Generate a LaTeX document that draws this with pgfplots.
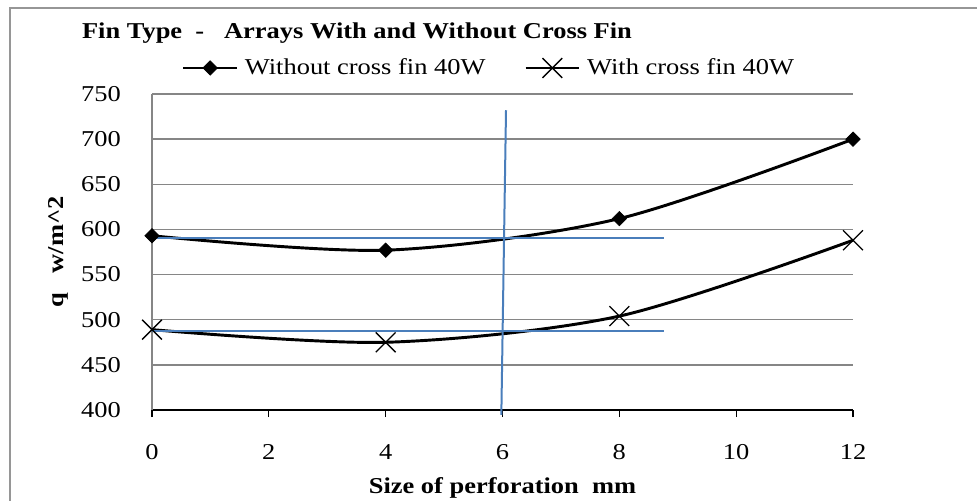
\documentclass[border=0pt]{standalone}
\usepackage{fontspec}
\setmainfont{Liberation Serif}[FakeStretch=1.167]
\usepackage{pgfplots}
\pgfplotsset{compat=1.18}
\definecolor{guideblue}{RGB}{74,126,187}
\definecolor{gridgray}{RGB}{134,134,134}
\definecolor{framegray}{RGB}{150,150,150}
\newcommand{\chartfont}{\fontsize{17}{20}\selectfont}

\begin{document}
\begin{tikzpicture}
\useasboundingbox (0,0) rectangle (732.75pt,375pt);
% chart area frame (left and top edges)
\draw[framegray, line width=1.5pt] (7.5pt,-5pt) -- (7.5pt,369pt) -- (740pt,369pt);
\node[anchor=base, font=\chartfont\bfseries] at (267.75pt,345.75pt)
  {Fin Type\ \ -\ \ \ Arrays With and Without Cross Fin};
\begin{axis}[
  at={(114pt,67.5pt)}, anchor=south west,
  scale only axis, width=525.75pt, height=237pt,
  xmin=0, xmax=12, ymin=400, ymax=750,
  xtick={0,2,...,12}, ytick={400,450,...,750},
  axis x line*=bottom, axis y line*=left,
  x axis line style={black, line width=0.8pt},
  y axis line style={gridgray, line width=1.1pt},
  ymajorgrids, major grid style={gridgray, line width=1.1pt},
  tick align=outside, major tick length=5.25pt,
  xtick style={black, line width=0.8pt},
  ytick style={draw=none},
  tick label style={font=\chartfont},
  /pgf/number format/assume math mode=true,
  xticklabel style={anchor=base, inner sep=0pt, yshift=-31.5pt},
  yticklabel style={anchor=east, inner sep=0pt, xshift=-18pt},
  xlabel={Size of perforation\ \ mm},
  ylabel={q\ \ \ w/m\textasciicircum2},
  label style={font=\chartfont\bfseries},
  xlabel style={at={(axis description cs:0.5,-0.2627)}, anchor=base},
  ylabel style={at={(axis description cs:-0.134,0.5)}, anchor=center},
  clip=false,
  legend columns=2,
  legend cell align=left,
  legend style={
    at={(axis description cs:0.0428,1.0823)}, anchor=west,
    draw=none, fill=none, inner sep=0pt, outer sep=0pt,
    font=\chartfont,
    nodes={inner sep=0pt},
    /tikz/every odd column/.append style={column sep=5pt},
    /tikz/every even column/.append style={column sep=29pt},
  },
  legend image code/.code={
    \draw[mark repeat=2,mark phase=2,#1] plot coordinates {(0pt,0pt) (20pt,0pt) (40pt,0pt)};
  },
]
\addplot[black, line width=2.2pt, smooth, tension=0.5,
  mark=square*, mark size=3.8pt, mark options={rotate=45, solid, line width=0.5pt}]
  coordinates {(0,593) (4,577) (8,612) (12,700)};
\addlegendentry{Without cross fin 40W}
\addplot[black, line width=2.2pt, smooth, tension=0.5,
  mark=x, mark size=10.5pt, mark options={line width=1pt}]
  coordinates {(0,489) (4,475) (8,504) (12,588)};
\addlegendentry{With cross fin 40W}
% guide lines
\addplot[guideblue, line width=1.5pt, forget plot] coordinates {(0,591) (8.76,591)};
\addplot[guideblue, line width=1.5pt, forget plot] coordinates {(0,487) (8.76,487)};
\addplot[guideblue, line width=1.5pt, forget plot] coordinates {(5.98,394.5) (6.06,732)};
\end{axis}
\end{tikzpicture}
\end{document}
